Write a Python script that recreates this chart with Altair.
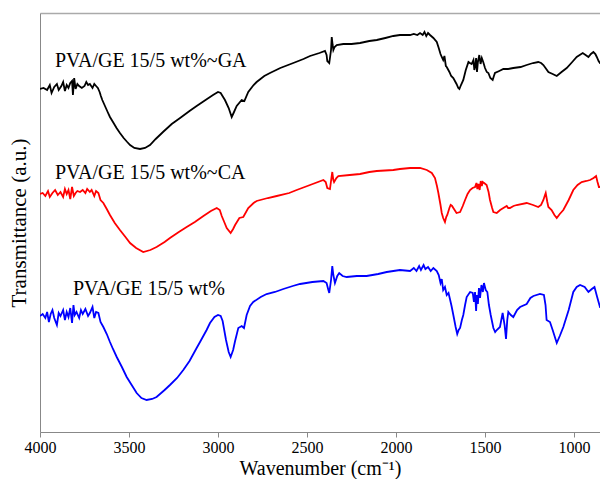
import altair as alt
import pandas as pd

# ---- data (wavenumber cm^-1, transmittance a.u.) ----
wn_ga = [4000,3980,3960,3945,3935,3920,3905,3895,3880,3870,3860,3850,3840,3830,3820,3815,3808,3800,3790,3780,
         3765,3750,3740,3730,3720,3705,3695,3685,3675,3665,3658,3650,3640,3630,3620,3607,3590,3570,3551,3530,
         3510,3494,3470,3438,3410,3382,3350,3309,3260,3213,3160,3120,3070,3028,3000,2985,2961,2940,2923,2910,
         2895,2867,2852,2830,2800,2783,2740,2708,2650,2577,2520,2483,2430,2399,2390,2386,2375,2365,2361,2356,
         2352,2345,2333,2296,2250,2202,2150,2108,2060,2015,1978,1940,1921,1900,1880,1865,1850,1840,1830,1820,
         1809,1790,1771,1760,1750,1743,1735,1728,1720,1715,1700,1690,1678,1660,1650,1644,1635,1622,1608,1593,
         1585,1575,1565,1560,1556,1550,1545,1540,1532,1525,1518,1510,1500,1490,1481,1470,1457,1450,1444,1420,
         1397,1370,1341,1300,1266,1230,1201,1185,1172,1160,1144,1120,1097,1070,1041,1010,985,951,935,919,
         905,891,880,872,862,854,840,826,809]
t_ga = [343,344,342,347,339,345,348,342,346,350,341,347,344,349,351,337,354,343,348,346,
        344,346,350,347,348,344,348,346,344,340,336,332,328,324,320,315,310,304,299,294,
        290,287,284,283,284,287,293,300,308,314,321,326,332,337,340,339,332,324,315,320,
        326,332,331,340,347,350,356,359,364,369,373,376,379,381,377,371,369,382,395,387,
        382,385,387,388,388,389,391,392,394,396,397,397,397,398,397,399,397,400,396,399,
        397,394,390,384,378,375,372,376,366,365,360,356,354,348,344,343,347,352,362,370,
        369,368,372,362,365,374,360,370,377,368,374,370,364,360,359,354,352,356,359,361,
        363,363,364,365,367,369,370,369,367,364,360,358,356,360,364,370,375,379,377,375,
        378,380,378,375,371,369,369,370,374]

wn_ca = [4000,3985,3970,3955,3945,3930,3915,3900,3885,3870,3860,3850,3840,3830,3820,3810,3800,3790,3775,3760,
         3745,3735,3720,3710,3695,3685,3672,3660,3644,3625,3607,3580,3551,3520,3494,3460,3420,3380,3345,3300,
         3270,3220,3176,3130,3082,3040,3007,2990,2979,2965,2951,2929,2915,2904,2880,2858,2830,2800,2783,2720,
         2670,2600,2558,2483,2408,2395,2386,2371,2362,2358,2352,2348,2335,2324,2260,2202,2150,2108,2015,1978,
         1921,1865,1827,1799,1781,1770,1762,1750,1743,1735,1725,1718,1712,1700,1693,1685,1678,1660,1640,1625,
         1612,1598,1584,1570,1556,1548,1543,1537,1530,1524,1518,1513,1505,1491,1480,1472,1460,1453,1434,1415,
         1397,1378,1370,1360,1340,1322,1266,1230,1201,1185,1172,1163,1159,1150,1144,1126,1110,1097,1080,1060,
         1030,1004,980,957,930,910,890,876,868,860,854,831,809]
t_ca = [238,239,236,241,235,239,242,237,240,235,243,238,242,233,245,236,239,241,240,242,
        239,243,240,242,236,241,239,232,229,223,217,209,202,195,189,184,180,182,185,190,
        194,200,205,210,216,221,224,222,216,210,204,199,203,207,214,215,224,229,231,234,
        236,239,242,247,252,250,244,243,255,260,252,250,254,256,257,258,260,261,262,263,
        264,264,262,259,254,246,239,227,219,214,210,215,217,224,227,226,224,219,220,226,
        232,238,242,244,245,249,243,248,242,251,246,250,249,247,240,232,224,220,219,222,
        224,226,224,224,226,227,229,227,225,227,232,237,239,230,225,222,217,214,218,222,
        232,242,247,250,251,252,254,256,250,245,245,247,254]

wn_pg = [4000,3985,3970,3960,3950,3940,3930,3920,3905,3895,3885,3870,3860,3850,3840,3830,3820,3812,3805,3795,
         3780,3770,3760,3745,3730,3720,3705,3695,3685,3672,3660,3644,3625,3607,3590,3569,3540,3513,3485,3457,
         3430,3401,3370,3345,3300,3270,3230,3195,3160,3120,3101,3064,3045,3020,3000,2985,2974,2955,2940,2929,
         2915,2904,2886,2867,2854,2839,2820,2802,2760,2727,2680,2633,2580,2539,2470,2408,2390,2380,2375,2365,
         2358,2352,2343,2330,2319,2300,2277,2220,2165,2100,2052,1978,1921,1900,1885,1870,1860,1845,1835,1820,
         1805,1790,1771,1760,1750,1743,1735,1725,1715,1705,1697,1688,1678,1665,1656,1648,1640,1630,1622,1612,
         1603,1584,1569,1562,1556,1550,1546,1540,1534,1528,1520,1512,1506,1496,1487,1478,1468,1453,1443,1434,
         1416,1401,1390,1382,1375,1369,1355,1341,1320,1303,1266,1245,1228,1191,1169,1160,1154,1135,1120,1097,
         1080,1060,1030,1004,985,966,940,919,900,885,870,854,831,809]
t_pg = [116,118,114,120,110,118,122,114,107,119,116,122,112,120,115,124,109,127,117,120,
        114,122,118,123,116,119,125,114,120,119,110,105,98,90,83,75,65,55,47,39,
        34,32,33,35,42,47,54,62,71,84,90,102,109,115,117,116,111,92,80,75,
        82,91,104,106,104,117,126,130,135,138,140,143,146,148,150,151,149,142,139,152,
        166,157,149,156,159,156,155,156,156,158,160,162,161,164,161,166,162,167,163,165,
        161,164,161,157,149,153,142,145,137,139,133,126,117,105,98,102,104,112,117,127,
        135,140,139,130,140,121,137,128,144,134,147,140,149,142,140,127,117,104,100,102,
        105,119,107,93,112,120,117,115,122,125,128,134,136,138,137,127,112,110,102,89,
        96,105,122,140,145,147,145,140,143,145,135,125,125,132]

series_names = ["PVA/GE 15/5 wt%~GA", "PVA/GE 15/5 wt%~CA", "PVA/GE 15/5 wt%"]
series_colors = ["#000000", "#ff0000", "#0000ff"]
label_wn = [3916, 3916, 3815]
label_t = [365, 253, 137]
x_ticks = [4000, 3500, 3000, 2500, 2000, 1500, 1000]

rows = []
for name, xs, ys in zip(series_names, [wn_ga, wn_ca, wn_pg], [t_ga, t_ca, t_pg]):
    for xv, yv in zip(xs, ys):
        rows.append({"series": name, "wn": xv, "t": yv})
df = pd.DataFrame(rows)
lab = pd.DataFrame({"series": series_names, "wn": label_wn, "t": label_t})

FONT = "Liberation Serif"
xscale = alt.Scale(domain=[4000, 854], nice=False, zero=False)
yscale = alt.Scale(domain=[0, 419], nice=False, zero=False)
cscale = alt.Scale(domain=series_names, range=series_colors)

lines = alt.Chart(df).mark_line(strokeWidth=1.8, clip=True).encode(
    x=alt.X("wn:Q", scale=xscale,
            axis=alt.Axis(title="Wavenumber (cm⁻¹)", values=x_ticks, format="d",
                          grid=False, ticks=True, tickSize=5, labelFontSize=16,
                          titleFontSize=20, labelPadding=2, titlePadding=3,
                          domainColor="#888888", tickColor="#888888",
                          labelColor="#000000", titleColor="#000000",
                          labelFont=FONT, titleFont=FONT, titleFontWeight="normal",
                          labelFlush=False)),
    y=alt.Y("t:Q", scale=yscale,
            axis=alt.Axis(title="Transmittance (a.u.)", labels=False, ticks=False,
                          grid=False, titleFontSize=21, titlePadding=11,
                          domainColor="#888888", titleColor="#000000",
                          titleFont=FONT, titleFontWeight="normal")),
    color=alt.Color("series:N", scale=cscale, legend=None),
    detail="series:N",
)

labels = alt.Chart(lab).mark_text(align="left", baseline="alphabetic", font=FONT,
                                  fontSize=20, color="#000000").encode(
    x=alt.X("wn:Q", scale=xscale,
            axis=alt.Axis(orient="top", labels=False, ticks=False, grid=False,
                          title=None, domainColor="#aaaaaa", domainWidth=1.5)),
    y=alt.Y("t:Q", scale=yscale),
    text="series:N",
)

chart = alt.layer(lines, labels).resolve_axis(x="independent").properties(
    width=560, height=419,
    autosize=alt.AutoSizeParams(type="none"),
    padding={"left": 32, "top": 5, "right": 0, "bottom": 47},
).configure_view(stroke=None)

chart.save("out.html", embed_options={"renderer": "svg", "actions": False})
